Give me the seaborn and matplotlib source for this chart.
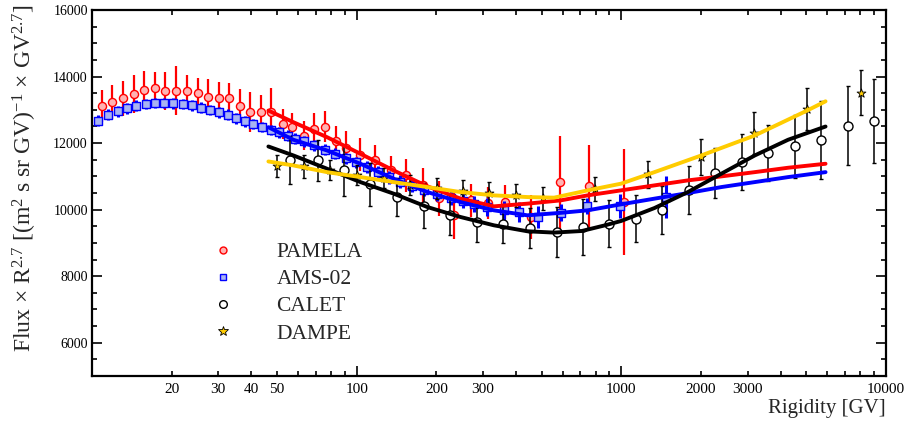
import numpy as np
import pandas as pd
import matplotlib
matplotlib.use("Agg")
import matplotlib.pyplot as plt
import matplotlib.ticker as mticker
from matplotlib.lines import Line2D
import seaborn as sns

# ---------------- data ----------------
pamela_R = [10.9, 11.95, 13.15, 14.4, 15.7, 17.3, 18.9, 20.7, 22.8, 25.1, 27.4, 30.1, 33.0,
            36.1, 39.6, 43.4, 47.6, 52.5, 57.2, 63.0, 69.0, 75.6, 83.5, 91.4, 102.5, 117.8,
            135, 154, 178, 204, 233, 271, 314, 363, 456, 585, 757, 1021]
pamela_F = [13106, 13247, 13346, 13466, 13607, 13667, 13556, 13568, 13556, 13517, 13397, 13367,
            13346, 13127, 12927, 12927, 12947, 12579, 12477, 12228, 12429, 12498, 12058, 11867,
            11649, 11478, 11178, 11028, 10727, 10337, 9828, 10279, 10188, 10228, 9778, 10828,
            10697, 10228]
pamela_E = [475, 510, 525, 575, 550, 465, 575, 735, 500, 450, 525, 475, 475, 500, 600, 525, 700,
            450, 430, 450, 475, 475, 470, 490, 500, 450, 420, 500, 520, 525, 720, 500, 480, 500,
            675, 1400, 1260, 1580]

ams_R = [10.5, 11.54, 12.59, 13.6, 14.7, 15.97, 17.3, 18.74, 20.3, 22.06, 23.86, 25.8, 27.9,
         30.1, 32.6, 35.1, 37.9, 40.7, 43.9, 47.4, 51.1, 54.8, 58.7, 63.0, 69.0, 75.6, 83.0,
         91.0, 99.7, 109.5, 120.3, 132.4, 146.4, 161.8, 179.4, 201.6, 226.5, 251.5, 277.3,
         312, 360, 411, 483, 591, 741, 989, 1474]
ams_F = [12678, 12849, 12957, 13047, 13127, 13178, 13196, 13208, 13196, 13178, 13136, 13067,
         12998, 12926, 12858, 12747, 12657, 12579, 12498, 12408, 12327, 12228, 12129, 12048,
         11930, 11799, 11679, 11540, 11420, 11280, 11130, 10970, 10840, 10720, 10600, 10480,
         10360, 10270, 10180, 10078, 9979, 9928, 9778, 9904, 10099, 10099, 10378]
ams_E = [175, 165, 160, 160, 155, 150, 150, 155, 160, 160, 160, 160, 160, 160, 160, 160, 160,
         155, 150, 150, 160, 170, 170, 170, 170, 170, 170, 175, 175, 180, 180, 185, 190, 190,
         200, 210, 220, 230, 240, 260, 280, 300, 320, 260, 240, 365, 640]

calet_R = [56.1, 71.3, 89.4, 112.7, 142, 179, 225, 284, 357, 452, 570, 714, 901, 1138, 1430,
           1799, 2264, 2857, 3585, 4549, 5703, 7207, 9036]
calet_F = [11499, 11478, 11178, 10759, 10378, 10114, 9829, 9628, 9559, 9460, 9328, 9478, 9580,
           9730, 10000, 10579, 11097, 11427, 11697, 11898, 12099, 12528, 12657]
calet_E = [725, 625, 775, 650, 575, 675, 600, 600, 550, 600, 750, 840, 700, 700, 720, 720, 750,
           840, 840, 960, 1170, 1200, 1260]

dampe_R = [49.9, 63.0, 79.4, 100.3, 126.5, 159.7, 201.6, 252, 316, 399, 504, 794, 1259, 2004,
           3162, 5035, 8017]
dampe_F = [11304, 11298, 11178, 11028, 10938, 10729, 10639, 10549, 10489, 10429, 10339, 10630,
           11058, 11577, 12297, 13029, 13508]
dampe_E = [325, 350, 300, 300, 300, 300, 320, 330, 340, 350, 350, 360, 400, 535, 625, 635, 675]

# fitted curves (nodes)
fit_R = [46.4, 57.7, 77.3, 103.3, 138, 185, 247, 330, 442, 591, 746, 997, 1334, 1784, 2386,
         3192, 4266, 5910]
fit_red = [12978, 12627, 12177, 11679, 11178, 10700, 10330, 10099, 10180, 10279, 10429, 10579,
           10729, 10879, 10999, 11127, 11259, 11379]
fit_blue = [12477, 12099, 11778, 11379, 10930, 10528, 10228, 9979, 9829, 9904, 9979, 10159,
            10330, 10498, 10678, 10828, 10978, 11127]
fit_black_R = [46.4, 57.7, 77.3, 103.3, 138, 185, 247, 330, 442, 557, 709, 868, 997, 1334, 1784,
               2386, 3192, 4266, 5910]
fit_black = [11898, 11628, 11229, 10828, 10480, 10078, 9778, 9529, 9349, 9310, 9358, 9529, 9658,
             10048, 10528, 11079, 11628, 12100, 12498]
fit_yellow_R = [46.4, 57.7, 77.3, 103.3, 138, 185, 247, 330, 442, 557, 746, 997, 1334, 2004,
                3192, 5035, 5910]
fit_yellow = [11448, 11328, 11127, 10978, 10828, 10678, 10528, 10429, 10378, 10360, 10579,
              10780, 11127, 11628, 12228, 12978, 13256]

x_ticks_labeled = [20, 30, 40, 50, 100, 200, 300, 1000, 2000, 3000, 10000]
legend_labels = ["PAMELA", "AMS-02", "CALET", "DAMPE"]

# ---------------- style ----------------
sns.set_theme(style="ticks")
plt.rcParams["font.family"] = ["Liberation Serif", "DejaVu Serif"]
plt.rcParams["mathtext.fontset"] = "custom"
plt.rcParams["mathtext.rm"] = "Liberation Serif"
plt.rcParams["mathtext.it"] = "Liberation Serif:italic"
plt.rcParams["axes.unicode_minus"] = False

RED = "#ff0000"
PINK = "#ffb3b3"
BLUE = "#0000ff"
LBLUE = "#a9b4f2"
GOLD = "#ffcc00"

fig = plt.figure(figsize=(9.09, 4.23), dpi=100)
ax = fig.add_axes([92 / 909, 1 - 376 / 423, (886 - 92) / 909, (376 - 10) / 423])

# data points
ax.errorbar(pamela_R, pamela_F, yerr=pamela_E, fmt="none", ecolor=RED, elinewidth=1.6, capsize=0, zorder=2)
sns.scatterplot(x=pamela_R, y=pamela_F, ax=ax, marker="o", s=34, color=PINK, edgecolor=RED,
                linewidth=1.0, zorder=3)
ax.errorbar(ams_R, ams_F, yerr=ams_E, fmt="none", ecolor=BLUE, elinewidth=2.2, capsize=0, zorder=4)
sns.scatterplot(x=ams_R, y=ams_F, ax=ax, marker="s", s=30, color=LBLUE, edgecolor=BLUE,
                linewidth=1.0, zorder=5)
ax.errorbar(calet_R, calet_F, yerr=calet_E, fmt="none", ecolor="black", elinewidth=1.1,
            capsize=1.5, capthick=1.0, zorder=6)
sns.scatterplot(x=calet_R, y=calet_F, ax=ax, marker="o", s=42, color="white", edgecolor="black",
                linewidth=1.0, zorder=7)
ax.errorbar(dampe_R, dampe_F, yerr=dampe_E, fmt="none", ecolor="black", elinewidth=1.1,
            capsize=1.5, capthick=1.0, zorder=6)
sns.scatterplot(x=dampe_R, y=dampe_F, ax=ax, marker="*", s=45, color=GOLD, edgecolor="black",
                linewidth=0.6, zorder=7)

# fitted lines
sns.lineplot(x=fit_R, y=fit_red, ax=ax, color=RED, linewidth=2.8, sort=False, estimator=None, zorder=8)
sns.lineplot(x=fit_R, y=fit_blue, ax=ax, color=BLUE, linewidth=2.8, sort=False, estimator=None, zorder=9)
sns.lineplot(x=fit_black_R, y=fit_black, ax=ax, color="black", linewidth=2.8, sort=False,
             estimator=None, zorder=10)
sns.lineplot(x=fit_yellow_R, y=fit_yellow, ax=ax, color=GOLD, linewidth=2.8, sort=False,
             estimator=None, zorder=11)

# axes
ax.set_xscale("log")
ax.set_xlim(10, 10000)
ax.set_ylim(5000, 16000)
ax.xaxis.set_major_locator(mticker.LogLocator(base=10, numticks=10))
ax.xaxis.set_minor_locator(mticker.LogLocator(base=10, subs=np.arange(2, 10), numticks=20))


def xfmt(v, pos):
    for t in x_ticks_labeled:
        if abs(v - t) / t < 1e-6:
            return f"{t:d}"
    return ""


ax.xaxis.set_major_formatter(mticker.FuncFormatter(xfmt))
ax.xaxis.set_minor_formatter(mticker.FuncFormatter(xfmt))
ax.yaxis.set_major_locator(mticker.MultipleLocator(2000))
ax.yaxis.set_minor_locator(mticker.MultipleLocator(500))
ax.yaxis.set_major_formatter(mticker.FuncFormatter(lambda v, p: f"{int(v)}"))

ax.tick_params(which="both", direction="in", top=True, right=True, colors="black", width=1.2)
ax.tick_params(which="major", length=7)
ax.tick_params(which="minor", length=3.5)
ax.tick_params(axis="x", which="both", labelsize=11, pad=5)
ax.tick_params(axis="y", which="both", labelsize=10, pad=3)
for sp in ax.spines.values():
    sp.set_linewidth(1.6)
    sp.set_color("black")

ax.set_xlabel("")
ax.set_ylabel("")
fig.text(886 / 909, 1 - 408 / 423, "Rigidity [GV]", ha="right", va="center", fontsize=15)
fig.text(25 / 909, 1 - 4 / 423,
         "Flux × R$^{2.7}$ [(m$^{2}$ s sr GV)$^{-1}$ × GV$^{2.7}$]",
         rotation=90, ha="center", va="top", fontsize=17)

# legend
handles = [
    Line2D([], [], linestyle="none", marker="o", markersize=5, markerfacecolor=PINK,
           markeredgecolor=RED, markeredgewidth=1.0),
    Line2D([], [], linestyle="none", marker="s", markersize=5, markerfacecolor=LBLUE,
           markeredgecolor=BLUE, markeredgewidth=1.0),
    Line2D([], [], linestyle="none", marker="o", markersize=5.5, markerfacecolor="white",
           markeredgecolor="black", markeredgewidth=1.0),
    Line2D([], [], linestyle="none", marker="*", markersize=7, markerfacecolor=GOLD,
           markeredgecolor="black", markeredgewidth=0.6),
]
ax.legend(handles, legend_labels, loc="upper left", bbox_to_anchor=(212 / 909, 1 - 242 / 423),
          bbox_transform=fig.transFigure, frameon=False, fontsize=15.5, handlelength=1.0,
          handletextpad=2.0, labelspacing=0.33, borderpad=0, borderaxespad=0)

fig.savefig("out.png", dpi=100, facecolor="white")
